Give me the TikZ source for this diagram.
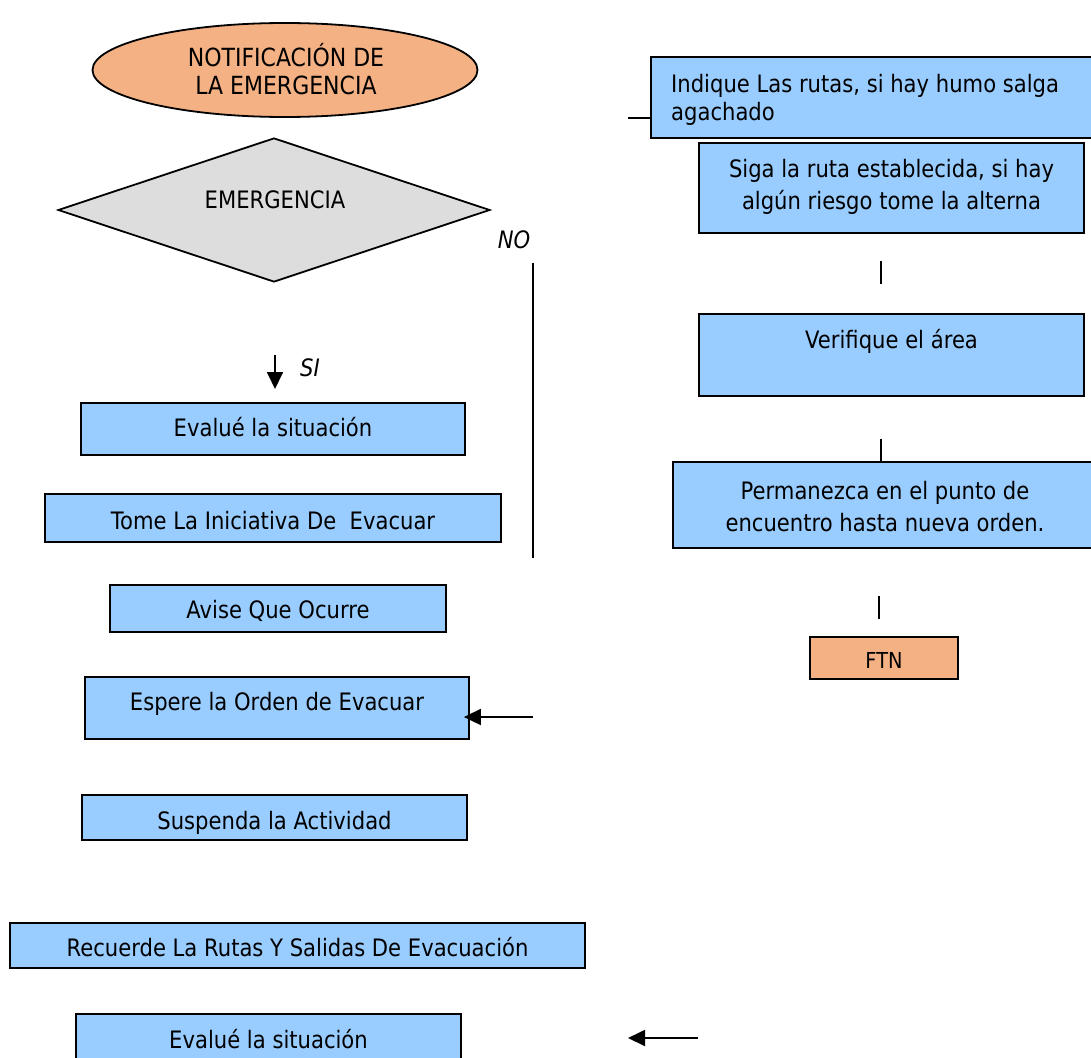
\documentclass[tikz,border=0pt]{standalone}
\usepackage{fontspec}
\setmainfont{DejaVu Sans}[FakeStretch=0.88]
\usetikzlibrary{shapes.geometric,arrows.meta}
\definecolor{boxblue}{HTML}{99CCFF}
\definecolor{startorange}{HTML}{F4B183}
\definecolor{decgray}{HTML}{DDDDDD}
\begin{document}
\begin{tikzpicture}[x=1pt,y=-1pt,
  every node/.style={font=\fontsize{24}{30}\selectfont},
  box/.style={draw, fill=boxblue, line width=1.8pt, inner sep=0pt, rectangle},
  endbox/.style={draw, fill=startorange, line width=1.8pt, inner sep=0pt, rectangle},
  txt/.style={inner sep=0pt, anchor=base},
  mtxt/.style={inner sep=0pt, anchor=center, align=center},
  itxt/.style={inner sep=0pt, anchor=base, font=\fontsize{24}{30}\selectfont\itshape},
  link/.style={line width=1.8pt},
  arr/.style={line width=1.8pt, -{Triangle[length=17pt,width=16pt]}}]
\useasboundingbox (0,0) rectangle (1091,1057);

% start and decision
\node[ellipse, draw, fill=startorange, line width=1.8pt, inner sep=0pt,
      minimum width=385pt, minimum height=94pt] (start) at (285,70) {};
\node[mtxt, font=\fontsize{25}{28}\selectfont] (startt) at (286,69) {NOTIFICACIÓN DE\\LA EMERGENCIA};
\node[diamond, draw, fill=decgray, line width=1.8pt, inner sep=0pt,
      minimum width=432pt, minimum height=144pt] (dec) at (274,210) {};
\node[txt] (dect) at (275,208) {EMERGENCIA};
\node[itxt] (no) at (514,248) {NO};
\node[itxt] (si) at (310,376) {SI};

% left column
\node[box, minimum width=384pt, minimum height=52pt] (b1) at (273,429) {};
\node[txt] (b1t) at (273,436) {Evalué la situación};
\node[box, minimum width=456pt, minimum height=48pt] (b2) at (273,518) {};
\node[txt] (b2t) at (273,529) {Tome La Iniciativa De\ \ Evacuar};
\node[box, minimum width=336pt, minimum height=47pt] (b3) at (278,608.5) {};
\node[txt] (b3t) at (278,618) {Avise Que Ocurre};
\node[box, minimum width=384pt, minimum height=62pt] (b4) at (277,708) {};
\node[txt] (b4t) at (277,710) {Espere la Orden de Evacuar};
\node[box, minimum width=385pt, minimum height=45pt] (b5) at (274.5,817.5) {};
\node[txt] (b5t) at (274.5,829) {Suspenda la Actividad};
\node[box, minimum width=575pt, minimum height=45pt] (b6) at (297.5,945.5) {};
\node[txt] (b6t) at (297.5,956) {Recuerde La Rutas Y Salidas De Evacuación};
\node[box, minimum width=385pt, minimum height=48pt] (b7) at (268.5,1038) {};
\node[txt] (b7t) at (268.5,1048) {Evalué la situación};

% right column
\node[box, minimum width=446pt, minimum height=81pt] (r1) at (874,97.5) {};
\node[inner sep=0pt, anchor=west, align=left, font=\fontsize{24}{28}\selectfont] (r1t) at (671,100) {Indique Las rutas, si hay humo salga\\agachado};
\node[box, minimum width=385pt, minimum height=90pt] (r2) at (891.5,188) {};
\node[mtxt, font=\fontsize{24}{32}\selectfont] (r2t) at (891.5,187) {Siga la ruta establecida, si hay\\algún riesgo tome la alterna};
\node[box, minimum width=385pt, minimum height=82pt] (r3) at (891.5,355) {};
\node[txt] (r3t) at (891.5,348) {Verifique el área};
\node[box, minimum width=424pt, minimum height=86pt] (r4) at (885,505) {};
\node[mtxt, font=\fontsize{24}{32}\selectfont] (r4t) at (885,507) {Permanezca en el punto de\\encuentro hasta nueva orden.};
\node[endbox, minimum width=148pt, minimum height=42pt] (fin) at (884,658) {};
\node[txt, font=\fontsize{22}{24}\selectfont] (fint) at (884,668) {FTN};

% connectors
\coordinate (siTop) at (275,355);
\coordinate (siTip) at (275,389);
\draw[arr] (siTop) -- (siTip);
\coordinate (noTop) at (533,263);
\coordinate (noBot) at (533,558);
\draw[link] (noTop) -- (noBot);
\coordinate (a4) at (533,717);
\draw[arr, shorten >=-6pt] (a4) -- (a4 -| b4.east);
\coordinate (a7s) at (698,1038);
\coordinate (a7e) at (628,1038);
\draw[arr] (a7s) -- (a7e);
\coordinate (l1) at (628,118);
\draw[link] (l1) -- (l1 -| r1.west);
\coordinate (l2a) at (881,261);
\coordinate (l2b) at (881,284);
\draw[link] (l2a) -- (l2b);
\coordinate (l3) at (881,439);
\draw[link] (l3) -- (l3 |- r4.north);
\coordinate (l4a) at (879,596);
\coordinate (l4b) at (879,619);
\draw[link] (l4a) -- (l4b);
\end{tikzpicture}
\end{document}
